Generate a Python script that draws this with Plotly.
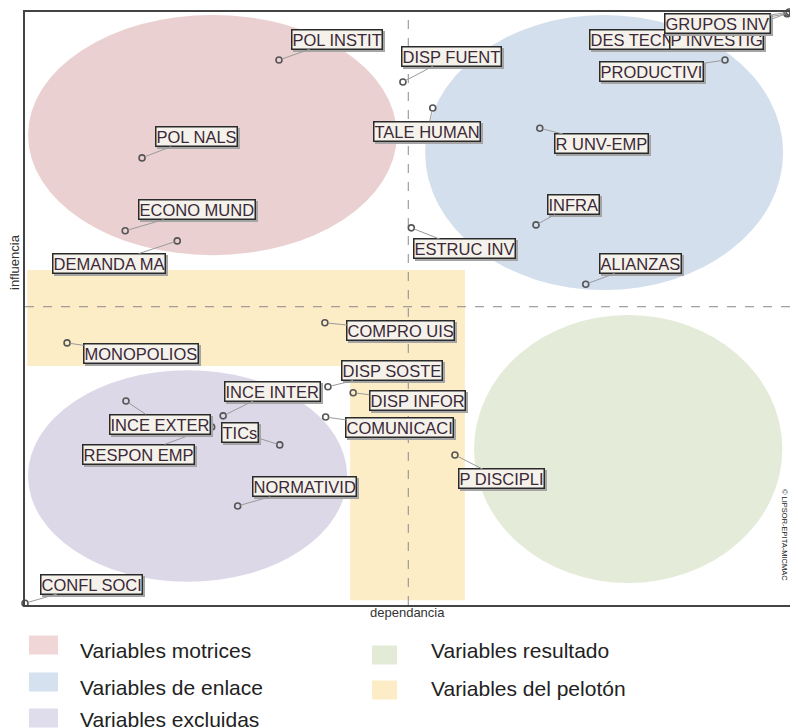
import plotly.graph_objects as go

# variables: dependence (x) and influence (y), scaled 0-100
names = ["CONFL SOCI", "NORMATIVID", "P DISCIPLI", "TICs", "RESPON EMP", "COMUNICACI",
         "INCE INTER", "INCE EXTER", "DISP INFOR", "DISP SOSTE", "MONOPOLIOS", "COMPRO UIS",
         "ALIANZAS", "DEMANDA MA", "ECONO MUND", "ESTRUC INV", "INFRA", "POL NALS",
         "R UNV-EMP", "TALE HUMAN", "DISP FUENT", "POL INSTIT", "PRODUCTIVI",
         "DES TECNOL", "P INVESTIG", "GRUPOS INV"]
dependencia = [0.0, 27.8, 56.2, 33.3, 24.4, 39.3,
               25.9, 13.2, 42.9, 39.6, 5.5, 39.2,
               73.3, 19.9, 13.1, 50.5, 66.8, 15.3,
               67.3, 53.3, 49.4, 33.2, 91.5,
               99.6, 99.7, 99.9]
influencia = [0.3, 16.7, 25.3, 27.0, 30.0, 31.7,
              31.9, 34.4, 35.8, 36.8, 44.2, 47.6,
              54.1, 61.4, 63.1, 63.6, 64.1, 75.4,
              80.4, 83.8, 88.2, 91.9, 91.9,
              99.7, 99.8, 100.0]
# label offsets in pixels (label centre relative to the point)
label_dx = [66, 67, 47, -39.5, -73.5, 74,
            49.5, 34, 64, 64.5, 74, 76,
            55, -68, 72, 53, 37, 54,
            62, -5.5, 48.5, 58.5, -73,
            -144, -71.5, -72]
label_dy = [-19, -19, 24, -12.5, 27, 10.5,
            -24.5, 23, 8, -16, 11, 8,
            -20.5, 22.5, -21, 21, -20, -21,
            15.5, 23, -25.5, -20.5, 11,
            25.5, 26.5, 11.5]

x_mean = 50.1
y_mean = 50.3

groups = ["Variables motrices", "Variables de enlace", "Variables excluidas",
          "Variables resultado", "Variables del pelotón"]
group_colors = ["#f0d6d6", "#d5e1ee", "#dfdcec", "#e3ebd7", "#fdedc6"]

# zones (x0, x1, y0, y1)
ellipses = [
    ("#ebd0d1", 0.4, 48.6, 59.0, 99.5),
    ("#d3dfed", 52.3, 99.1, 53.1, 99.5),
    ("#dcd8e8", 0.4, 42.1, 3.9, 39.6),
    ("#e4ebd8", 58.7, 99.0, 3.7, 48.9),
]
peloton = [(0.3, 57.5, 40.3, 56.5), (42.5, 57.5, 0.8, 56.5)]

# page body has an 8px margin, so the figure is a bit smaller than the window
OFF = 8
W, H = 790, 720
L, R, T, B = 17, 8, 4, 123


def px_x(p):
    return (p - OFF - L) / (W - L - R)


def px_y(p):
    return (H - B - (p - OFF)) / (H - T - B)


shapes = []
for col, x0, x1, y0, y1 in ellipses:
    shapes.append(dict(type="circle", xref="x", yref="y", x0=x0, x1=x1, y0=y0, y1=y1,
                       fillcolor=col, line=dict(width=0), layer="below"))
for x0, x1, y0, y1 in peloton:
    shapes.append(dict(type="rect", xref="x", yref="y", x0=x0, x1=x1, y0=y0, y1=y1,
                       fillcolor="#fdedc6", line=dict(width=0), layer="below"))
shapes.append(dict(type="line", xref="x", yref="y", x0=x_mean, x1=x_mean, y0=0, y1=100,
                   line=dict(color="#8a8a8a", width=1, dash="dash"), layer="below"))
shapes.append(dict(type="line", xref="x", yref="y", x0=0, x1=100, y0=y_mean, y1=y_mean,
                   line=dict(color="#8a8a8a", width=1, dash="dash"), layer="below"))

fig = go.Figure()
fig.add_trace(go.Scatter(
    x=dependencia, y=influencia, mode="markers", cliponaxis=False, showlegend=False,
    marker=dict(symbol="circle-open", size=6, color="#555555", line=dict(width=1.6)),
    hoverinfo="text", text=names,
))

lab_font = 16.5
annotations = []
for n, xv, yv, dx, dy in zip(names, dependencia, influencia, label_dx, label_dy):
    # soft drop shadow behind the label box
    annotations.append(dict(
        x=xv, y=yv, xref="x", yref="y", text=n, showarrow=False,
        font=dict(size=lab_font, color="rgba(0,0,0,0)", family="Liberation Sans"),
        bgcolor="#a5a5a5", borderpad=0, borderwidth=1.5, bordercolor="#a5a5a5",
        xshift=dx + 2, yshift=-(dy + 2),
    ))
    annotations.append(dict(
        x=xv, y=yv, xref="x", yref="y", ax=dx, ay=dy, axref="pixel", ayref="pixel",
        text=n, showarrow=True, arrowhead=0, arrowwidth=1, arrowcolor="#9a9a9a",
        standoff=3, font=dict(size=lab_font, color="#3b2838", family="Liberation Sans"),
        bgcolor="#f4f2ea", bordercolor="#2a2a2a", borderwidth=1.5, borderpad=0,
    ))

# axis titles and credit
annotations.append(dict(x=px_x(407), y=px_y(612), xref="paper", yref="paper", text="dependancia",
                        xanchor="center", yanchor="middle", showarrow=False,
                        font=dict(size=13, color="#333333", family="Liberation Sans")))
annotations.append(dict(x=px_x(14), y=px_y(262), xref="paper", yref="paper", text="influencia",
                        xanchor="center", yanchor="middle", textangle=-90, showarrow=False,
                        font=dict(size=13, color="#333333", family="Liberation Sans")))
annotations.append(dict(x=px_x(785), y=px_y(535), xref="paper", yref="paper",
                        text="© LIPSOR-EPITA-MICMAC", textangle=90, showarrow=False,
                        xanchor="center", yanchor="middle",
                        font=dict(size=7.5, color="#222222", family="Liberation Sans")))

# legend drawn below the plot
legend_pos = [(29, 58, 645, 78, 650), (29, 58, 682, 78, 687), (29, 58, 718, 78, 719),
              (372, 397, 655, 429, 650), (372, 397, 690, 429, 688)]
for g, col, (sx0, sx1, sy, tx, ty) in zip(groups, group_colors, legend_pos):
    shapes.append(dict(type="rect", xref="paper", yref="paper", x0=px_x(sx0), x1=px_x(sx1),
                       y0=px_y(sy + 9.5), y1=px_y(sy - 9.5), fillcolor=col, line=dict(width=0)))
    annotations.append(dict(x=px_x(tx), y=px_y(ty), xref="paper", yref="paper", text=g,
                            xanchor="left", yanchor="middle", showarrow=False,
                            font=dict(size=21, color="#222222", family="Liberation Sans")))

fig.update_layout(
    width=W, height=H, margin=dict(l=L, r=R, t=T, b=B, autoexpand=False),
    plot_bgcolor="white", paper_bgcolor="white",
    shapes=shapes, annotations=annotations, showlegend=False,
    xaxis=dict(range=[0, 100], showgrid=False, zeroline=False, showticklabels=False, ticks="",
               showline=True, mirror=True, linecolor="#444444", linewidth=2, automargin=False),
    yaxis=dict(range=[0, 100], showgrid=False, zeroline=False, showticklabels=False, ticks="",
               showline=True, mirror=True, linecolor="#444444", linewidth=2, automargin=False),
)

fig.write_html("out.html")
